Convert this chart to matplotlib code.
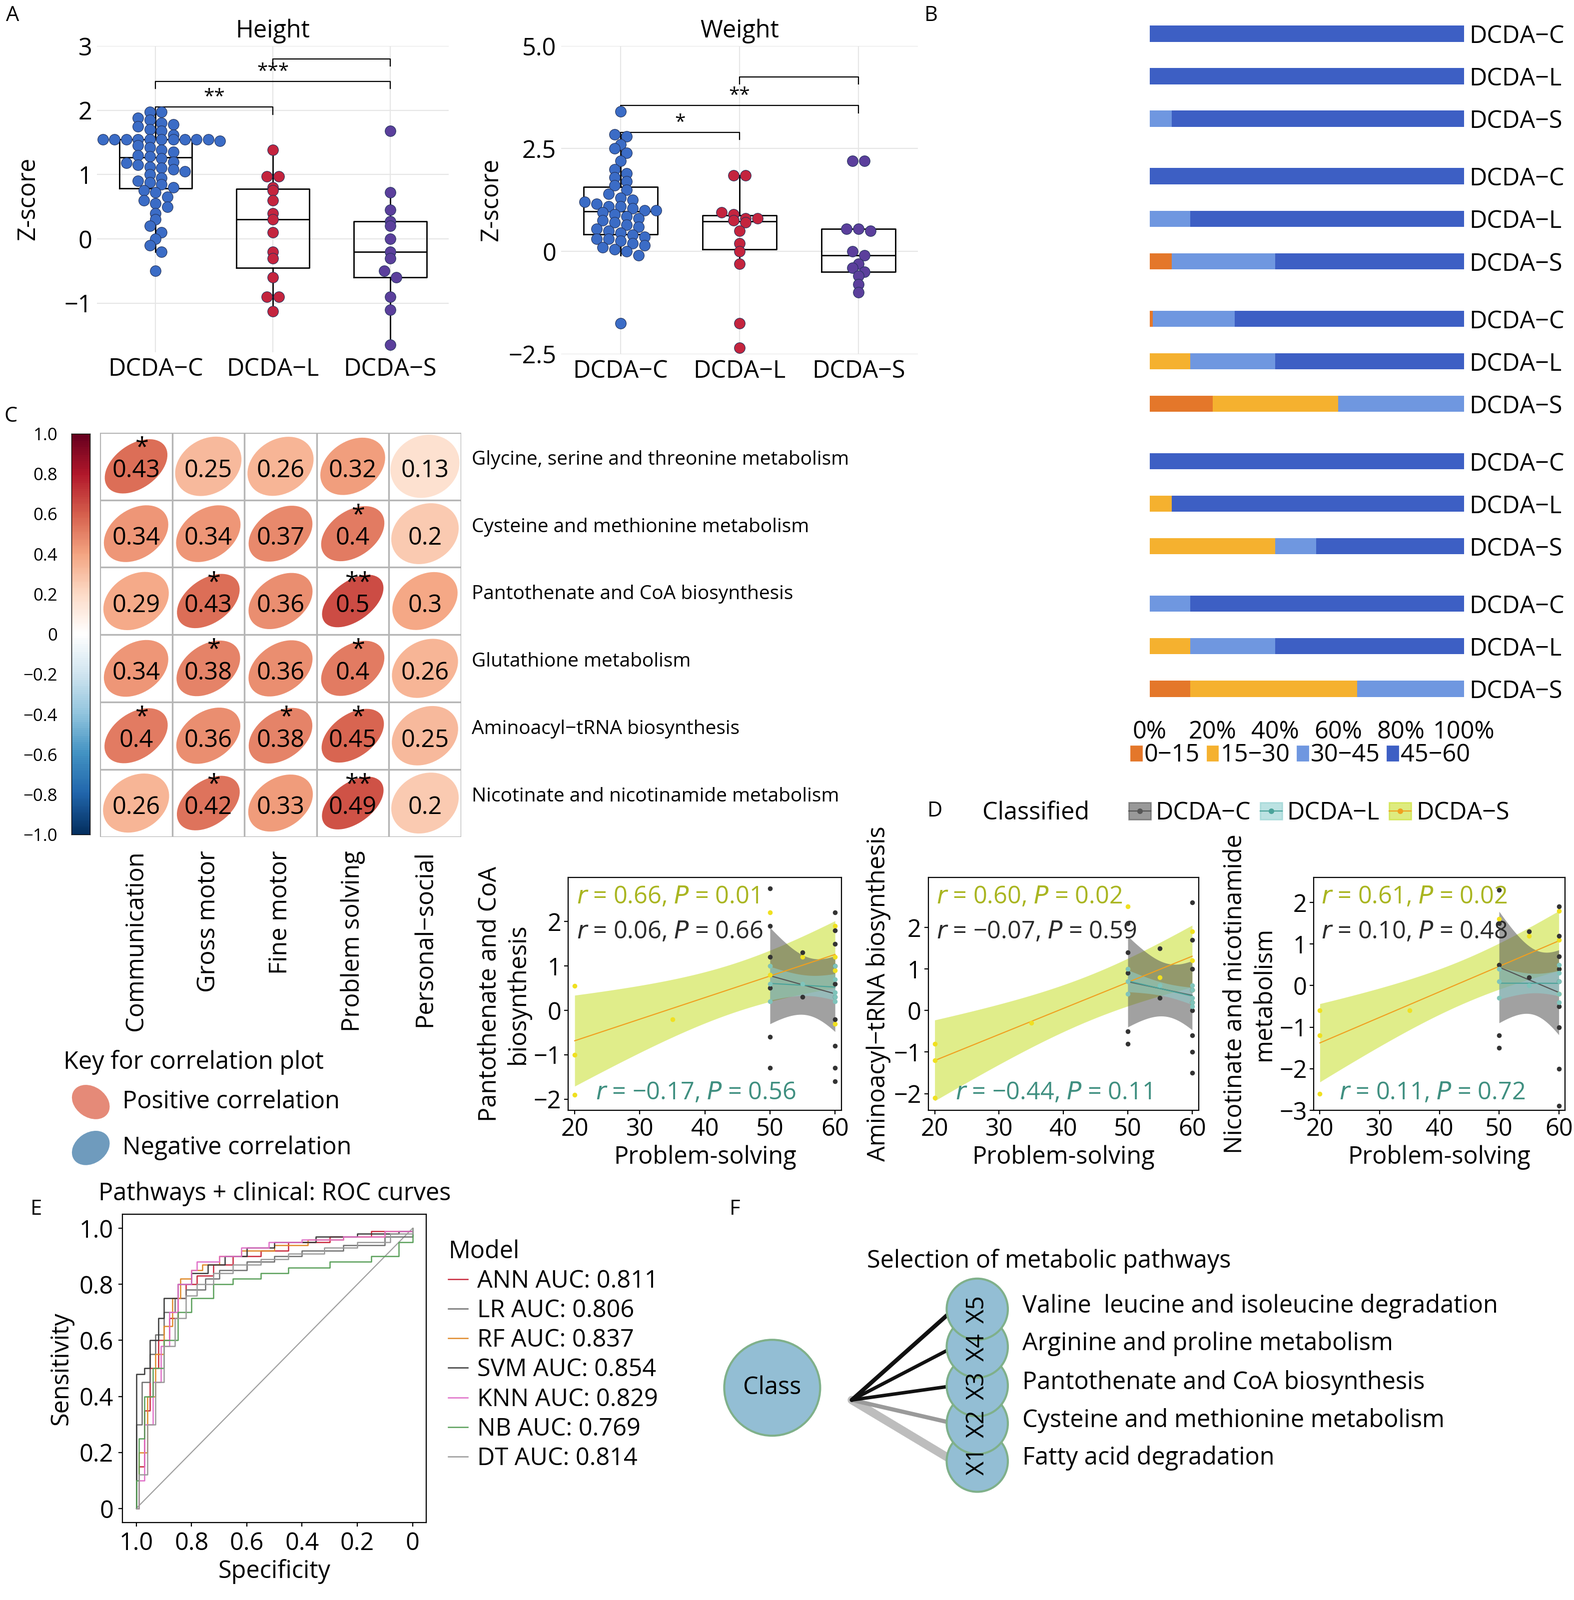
import numpy as np
import matplotlib.pyplot as plt
from matplotlib.patches import Ellipse, Circle, Patch
from matplotlib.lines import Line2D
from matplotlib.colors import LinearSegmentedColormap

plt.rcParams['font.family'] = ['Open Sans', 'DejaVu Sans']
plt.rcParams['font.size'] = 17
plt.rcParams['axes.linewidth'] = 0.8

W, H = 1543, 1568
FS = 17.5
fig = plt.figure(figsize=(15.75, 16.01), dpi=200)


def ax_at(x0, y0, x1, y1):
    return fig.add_axes([x0 / W, 1 - y1 / H, (x1 - x0) / W, (y1 - y0) / H])


def ftext(x, y, s, **kw):
    fig.text(x / W, 1 - y / H, s, **kw)


# ---------------- data ----------------
groups = ['DCDA\u2212C', 'DCDA\u2212L', 'DCDA\u2212S']
grp_colors = ['#3b6cc6', '#c4243e', '#5b3f9c']

height_c = [1.97, 1.97, 1.88, 1.85, 1.8, 1.78, 1.75, 1.7, 1.68, 1.62, 1.57, 1.55, 1.55, 1.55, 1.55, 1.55,
            1.55, 1.55, 1.55, 1.55, 1.55, 1.52, 1.45, 1.42, 1.38, 1.35, 1.3, 1.28, 1.25, 1.2, 1.18, 1.15,
            1.12, 1.1, 1.08, 1.05, 1.0, 0.95, 0.9, 0.88, 0.85, 0.8, 0.75, 0.72, 0.65, 0.6, 0.55, 0.5,
            0.4, 0.3, 0.2, 0.1, 0.0, -0.1, -0.2, -0.5]
height_l = [1.38, 0.97, 0.97, 0.8, 0.75, 0.6, 0.4, 0.3, 0.1, -0.2, -0.3, -0.6, -0.9, -0.9, -1.13]
height_s = [1.68, 0.72, 0.45, 0.27, 0.2, 0.0, -0.2, -0.3, -0.5, -0.6, -0.9, -1.1, -1.65]
weight_c = [3.4, 2.85, 2.8, 2.6, 2.5, 2.4, 2.2, 2.0, 1.9, 1.8, 1.7, 1.6, 1.5, 1.4, 1.3, 1.25, 1.2, 1.15,
            1.1, 1.1, 1.05, 1.0, 1.0, 0.95, 0.9, 0.85, 0.8, 0.75, 0.7, 0.65, 0.6, 0.55, 0.5, 0.45, 0.4,
            0.35, 0.3, 0.3, 0.25, 0.2, 0.15, 0.1, 0.05, 0.0, -0.1, -1.75]
weight_l = [1.85, 1.85, 0.95, 0.9, 0.8, 0.8, 0.75, 0.7, 0.5, 0.2, 0.0, -0.3, -1.75, -2.35]
weight_s = [2.2, 2.2, 0.55, 0.55, 0.5, 0.0, -0.1, -0.3, -0.4, -0.5, -0.6, -0.8, -1.0]

domains = ['Gross motor', 'Communication', 'Fine motor', 'Problem solving', 'Personal social']
bins = ['0\u221215', '15\u221230', '30\u221245', '45\u221260']
bin_colors = ['#e4772a', '#f5b12f', '#6f97e0', '#3d5fc4']
# percentages per domain, per group (C, L, S), per bin
pct = [
    [[0, 0, 0, 100], [0, 0, 0, 100], [0, 0, 7, 93]],
    [[0, 0, 0, 100], [0, 0, 13, 87], [7, 0, 33, 60]],
    [[1, 0, 26, 73], [0, 13, 27, 60], [20, 40, 40, 0]],
    [[0, 0, 0, 100], [0, 7, 0, 93], [0, 40, 13, 47]],
    [[0, 0, 13, 87], [0, 13, 27, 60], [13, 53, 34, 0]],
]

pathways = ['Glycine, serine and threonine metabolism', 'Cysteine and methionine metabolism',
            'Pantothenate and CoA biosynthesis', 'Glutathione metabolism',
            'Aminoacyl\u2212tRNA biosynthesis', 'Nicotinate and nicotinamide metabolism']
traits = ['Communication', 'Gross motor', 'Fine motor', 'Problem solving', 'Personal\u2212social']
corr = [[0.43, 0.25, 0.26, 0.32, 0.13],
        [0.34, 0.34, 0.37, 0.40, 0.20],
        [0.29, 0.43, 0.36, 0.50, 0.30],
        [0.34, 0.38, 0.36, 0.40, 0.26],
        [0.40, 0.36, 0.38, 0.45, 0.25],
        [0.26, 0.42, 0.33, 0.49, 0.20]]
corr_lbl = [['0.43', '0.25', '0.26', '0.32', '0.13'],
            ['0.34', '0.34', '0.37', '0.4', '0.2'],
            ['0.29', '0.43', '0.36', '0.5', '0.3'],
            ['0.34', '0.38', '0.36', '0.4', '0.26'],
            ['0.4', '0.36', '0.38', '0.45', '0.25'],
            ['0.26', '0.42', '0.33', '0.49', '0.2']]
stars = [['*', '', '', '', ''],
         ['', '', '', '*', ''],
         ['', '*', '', '**', ''],
         ['', '*', '', '*', ''],
         ['*', '', '*', '*', ''],
         ['', '*', '', '**', '']]

# panel D points (x, y) per group
d_sets = [
    {'S': ([20, 20, 20, 35, 50, 50, 55, 60, 60, 60, 60, 50], [0.55, -1.0, -1.9, -0.2, 2.2, 1.0, 1.2, 1.9, 0.9, 1.2, -0.3, 0.8]),
     'C': ([50, 50, 50, 50, 50, 55, 55, 60, 60, 60, 60, 60, 60, 60, 60, 60, 50, 60],
           [2.75, 1.9, 1.2, 0.5, -0.6, 1.3, 0.3, 2.2, 1.5, 1.0, 0.6, 0.3, -0.2, -0.8, -1.3, -1.6, -1.3, 1.8]),
     'L': ([50, 50, 50, 55, 60, 60, 60, 60, 60], [1.0, 0.2, 0.6, 0.6, 1.0, 0.4, 0.2, 0.7, 0.3])},
    {'S': ([20, 20, 20, 35, 50, 50, 55, 60, 60, 60, 60], [-0.8, -1.2, -2.1, -0.3, 2.5, 1.0, 0.8, 1.9, 1.2, 0.5, 0.2]),
     'C': ([50, 50, 50, 50, 50, 55, 55, 60, 60, 60, 60, 60, 60, 60, 60, 60],
           [2.1, 1.4, 0.9, -0.5, -0.8, 1.5, 0.3, 2.6, 1.7, 1.0, 0.5, 0.0, -0.6, -1.0, -1.5, 0.2]),
     'L': ([50, 50, 50, 55, 60, 60, 60, 60, 60], [1.0, 0.4, 0.7, 0.6, 0.6, 0.1, 0.3, 0.5, 0.2])},
    {'S': ([20, 20, 20, 35, 50, 50, 55, 60, 60, 60, 60], [-0.6, -1.2, -2.6, -0.6, 1.6, 0.5, 1.2, 1.8, 1.1, 0.4, -0.2]),
     'C': ([50, 50, 50, 50, 50, 55, 55, 60, 60, 60, 60, 60, 60, 60, 60, 60],
           [2.3, 1.5, 0.5, -1.2, -1.5, 1.3, 0.2, 1.9, 1.2, 0.7, 0.1, -0.5, -1.0, -2.0, -2.9, 0.4]),
     'L': ([50, 50, 50, 55, 60, 60, 60, 60, 60], [0.4, -0.3, 0.1, 0.0, 0.3, -0.2, 0.1, 0.5, -0.4])},
]
d_ylabels = ['Pantothenate and CoA\nbiosynthesis', 'Aminoacyl\u2212tRNA biosynthesis',
             'Nicotinate and nicotinamide\nmetabolism']
d_text = [
    [('0.66', '0.01'), ('0.06', '0.66'), ('\u22120.17', '0.56')],
    [('0.60', '0.02'), ('\u22120.07', '0.59'), ('\u22120.44', '0.11')],
    [('0.61', '0.02'), ('0.10', '0.48'), ('0.11', '0.72')],
]
d_ylims = [(-2.25, 2.99), (-2.4, 3.2), (-3.0, 2.6)]
d_yticks = [[-2, -1, 0, 1, 2], [-2, -1, 0, 1, 2], [-3, -2, -1, 0, 1, 2]]

models = ['ANN AUC: 0.811', 'LR AUC: 0.806', 'RF AUC: 0.837', 'SVM AUC: 0.854',
          'KNN AUC: 0.829', 'NB AUC: 0.769', 'DT AUC: 0.814']
model_colors = ['#c8283c', '#707070', '#e08a2a', '#3a3a3a', '#e06fc8', '#5aa05a', '#9a9a9a']
roc_spec = [
    [1, 0.99, 0.97, 0.95, 0.92, 0.88, 0.85, 0.82, 0.78, 0.72, 0.65, 0.55, 0.45, 0.3, 0.15, 0],
    [1, 1.0, 0.98, 0.95, 0.93, 0.9, 0.86, 0.82, 0.75, 0.7, 0.6, 0.5, 0.4, 0.25, 0.1, 0],
    [1, 0.99, 0.96, 0.93, 0.9, 0.87, 0.84, 0.8, 0.76, 0.7, 0.62, 0.5, 0.38, 0.25, 0.1, 0],
    [1, 1.0, 0.97, 0.95, 0.92, 0.9, 0.85, 0.8, 0.74, 0.68, 0.6, 0.5, 0.35, 0.2, 0.05, 0],
    [1, 0.99, 0.97, 0.94, 0.91, 0.88, 0.85, 0.8, 0.78, 0.7, 0.62, 0.52, 0.4, 0.25, 0.1, 0],
    [1, 1.0, 0.99, 0.97, 0.94, 0.9, 0.85, 0.8, 0.72, 0.65, 0.55, 0.45, 0.3, 0.15, 0.05, 0],
    [1, 0.99, 0.96, 0.93, 0.9, 0.86, 0.82, 0.78, 0.72, 0.65, 0.55, 0.45, 0.32, 0.2, 0.08, 0],
]
roc_sens = [
    [0, 0.15, 0.35, 0.5, 0.6, 0.68, 0.75, 0.8, 0.83, 0.87, 0.9, 0.92, 0.95, 0.97, 0.99, 1],
    [0, 0.3, 0.45, 0.55, 0.62, 0.7, 0.75, 0.78, 0.82, 0.85, 0.88, 0.9, 0.92, 0.94, 0.97, 1],
    [0, 0.2, 0.4, 0.55, 0.65, 0.75, 0.82, 0.85, 0.87, 0.9, 0.92, 0.94, 0.96, 0.97, 0.99, 1],
    [0, 0.48, 0.5, 0.6, 0.68, 0.75, 0.8, 0.84, 0.87, 0.9, 0.93, 0.95, 0.97, 0.98, 0.99, 1],
    [0, 0.1, 0.3, 0.45, 0.58, 0.7, 0.8, 0.85, 0.88, 0.9, 0.93, 0.95, 0.96, 0.97, 0.99, 1],
    [0, 0.1, 0.25, 0.4, 0.5, 0.6, 0.7, 0.75, 0.8, 0.82, 0.84, 0.86, 0.88, 0.9, 0.95, 1],
    [0, 0.12, 0.3, 0.45, 0.58, 0.68, 0.76, 0.8, 0.84, 0.87, 0.89, 0.91, 0.93, 0.95, 0.98, 1],
]

f_nodes = ['X1', 'X2', 'X3', 'X4', 'X5']
f_labels = ['Fatty acid degradation', 'Cysteine and methionine metabolism',
            'Pantothenate and CoA biosynthesis', 'Arginine and proline metabolism',
            'Valine  leucine and isoleucine degradation']
f_weights = [6, 3, 2.5, 2.5, 3]
f_edge_cols = ['#bdbdbd', '#9a9a9a', '#111111', '#111111', '#111111']


# ---------------- panel A ----------------
def swarm_x(vals, center, binw, dx):
    vals = np.asarray(vals)
    xs = np.zeros(len(vals))
    keys = np.round(vals / binw)
    for k in np.unique(keys):
        idx = np.where(keys == k)[0]
        n = len(idx)
        xs[idx] = center + (np.arange(n) - (n - 1) / 2) * dx
    return xs


def box_panel(ax, data, ylim, yticks, yticklabels, title, binw, sig):
    for i, (vals, col) in enumerate(zip(data, grp_colors)):
        ax.boxplot([vals], positions=[i], widths=0.62, showfliers=False,
                   medianprops=dict(color='black', lw=1), boxprops=dict(lw=1),
                   whiskerprops=dict(lw=1), capprops=dict(lw=0))
        xs = swarm_x(vals, i, binw, 0.1)
        ax.scatter(xs, vals, s=60, color=col, edgecolor='#22325a', lw=0.4, zorder=3)
    ax.set_xlim(-0.5, 2.5)
    ax.set_ylim(*ylim)
    ax.set_yticks(yticks)
    ax.set_yticklabels(yticklabels)
    ax.set_xticks([0, 1, 2])
    ax.set_xticklabels(groups)
    ax.tick_params(length=0, labelsize=FS)
    ax.grid(color='#e6e6e6', lw=0.8)
    ax.set_axisbelow(True)
    for s in ax.spines.values():
        s.set_visible(False)
    ax.set_ylabel('Z-score', fontsize=FS)
    ax.set_title(title, fontsize=FS, pad=6)
    for (a, b, y, lab) in sig:
        h = 0.04 * (ylim[1] - ylim[0])
        ax.plot([a, a, b, b], [y - h * 0.6, y, y, y - h * 0.6], color='black', lw=0.8, clip_on=False)
        if lab:
            ax.text((a + b) / 2, y, lab, ha='center', va='bottom', fontsize=14)


axh = ax_at(95, 45, 440, 345)
box_panel(axh, [height_c, height_l, height_s], (-1.76, 3.0), [-1, 0, 1, 2, 3],
          ['\u22121', '0', '1', '2', '3'], 'Height', 0.14,
          [(0, 1, 2.05, '**'), (0, 2, 2.45, '***'), (1, 2, 2.8, '')])
axh.yaxis.set_label_coords(-0.16, 0.5)
axw = ax_at(550, 45, 900, 347)
box_panel(axw, [weight_c, weight_l, weight_s], (-2.5, 5.0), [-2.5, 0, 2.5, 5.0],
          ['\u22122.5', '0', '2.5', '5.0'], 'Weight', 0.22,
          [(0, 1, 2.9, '*'), (0, 2, 3.55, '**'), (1, 2, 4.25, '')])
axw.yaxis.set_label_coords(-0.16, 0.5)

# ---------------- panel B ----------------
axb = ax_at(1127, 8, 1435, 700)
ypos = []
y = 0
for d in range(5):
    for g in range(3):
        ypos.append(y)
        y += 1
    y += 0.35
ypos = np.array(ypos)
k = 0
for d in range(5):
    for g in range(3):
        left = 0
        for b in range(4):
            v = pct[d][g][b]
            if v > 0:
                axb.barh(ypos[k], v, left=left, height=0.38, color=bin_colors[b])
            left += v
        k += 1
axb.set_xlim(0, 100)
axb.set_ylim(ypos[-1] + 0.6, -0.6)
axb.set_xticks([0, 20, 40, 60, 80, 100])
axb.set_xticklabels(['0%', '20%', '40%', '60%', '80%', '100%'])
axb.set_yticks(ypos)
axb.set_yticklabels(groups * 5)
axb.yaxis.tick_right()
axb.tick_params(length=0, labelsize=FS, pad=4)
for s in axb.spines.values():
    s.set_visible(False)
for d in range(5):
    yc = ypos[d * 3 + 1]
    axb.text(-4, yc - 0.05, domains[d], ha='right', va='center', fontsize=FS,
             transform=axb.get_yaxis_transform())
axb.legend([Patch(color=c) for c in bin_colors], bins, loc='upper center', bbox_to_anchor=(0.48, -0.02),
           ncol=4, frameon=False, fontsize=FS, handlelength=0.45, handleheight=0.55,
           handletextpad=0.1, columnspacing=0.3, borderpad=0.1)

# ---------------- panel C ----------------
cmap = LinearSegmentedColormap.from_list('corr', ['#053061', '#2166AC', '#4393C3', '#92C5DE', '#D1E5F0',
                                                  '#FFFFFF', '#FDDBC7', '#F4A582', '#D6604D',
                                                  '#B2182B', '#67001F'])
axc = ax_at(98, 424, 452, 820)
for r in range(6):
    for c in range(5):
        v = corr[r][c]
        yy = 5.5 - r
        e = Ellipse((c + 0.5, yy), width=1.0, height=1.0 * (1 - 0.85 * v), angle=40,
                    facecolor=cmap((min(1.3 * v, 1) + 1) / 2), edgecolor='none')
        axc.add_patch(e)
        axc.text(c + 0.5, yy - 0.07, corr_lbl[r][c], ha='center', va='center', fontsize=FS)
        if stars[r][c]:
            axc.text(c + 0.58, yy + 0.26, stars[r][c], ha='center', va='center', fontsize=FS)
for i in range(6):
    axc.axvline(i, color='#b5b5b5', lw=1.2)
for i in range(7):
    axc.axhline(i, color='#b5b5b5', lw=1.2)
axc.set_xlim(0, 5)
axc.set_ylim(0, 6)
axc.set_xticks(np.arange(5) + 0.5)
axc.set_xticklabels(traits, rotation=90, fontsize=FS)
axc.set_yticks([])
axc.tick_params(length=0, pad=10)
for s in axc.spines.values():
    s.set_visible(False)
for r in range(6):
    axc.text(5.15, 5.5 - r + 0.1, pathways[r], ha='left', va='center', fontsize=14)

axcb = ax_at(70, 425, 88, 818)
cb_ticks = np.round(np.arange(-1, 1.01, 0.2), 1)
axcb.imshow(np.linspace(1, -1, 200).reshape(-1, 1), aspect='auto', cmap=cmap, vmin=-1, vmax=1,
            extent=[0, 1, -1, 1])
axcb.set_xticks([])
axcb.set_yticks(cb_ticks)
axcb.set_yticklabels(['\u22121.0' if v == -1 else ('1.0' if v == 1 else ('0' if v == 0 else
                      (str(v).replace('-', '\u2212')))) for v in cb_ticks], fontsize=12.5)
axcb.tick_params(length=0, pad=10)
for s in axcb.spines.values():
    s.set_lw(0.5)

ftext(62, 1041, 'Key for correlation plot', fontsize=FS, va='center')
axk = ax_at(60, 1055, 120, 1150)
axk.set_xlim(0, 60)
axk.set_ylim(95, 0)
axk.axis('off')
axk.add_patch(Ellipse((29, 25), 40, 30, angle=35, facecolor='#e58a78', edgecolor='none'))
axk.add_patch(Ellipse((29, 70), 40, 30, angle=-35, facecolor='#6f9bbd', edgecolor='none'))
ftext(120, 1080, 'Positive correlation', fontsize=FS, va='center')
ftext(120, 1125, 'Negative correlation', fontsize=FS, va='center')

# ---------------- panel D ----------------
d_cols = {'S': '#f0e020', 'C': '#333333', 'L': '#7fc4bb'}
band_cols = {'S': '#c8df2a', 'C': '#555555', 'L': '#8fd0cf'}
line_cols = {'S': '#f0a020', 'C': '#555555', 'L': '#4aa39a'}
txt_cols = ['#a9b520', '#2a2a2a', '#3f8f80']
d_boxes = [(557, 860, 825, 1088), (910, 860, 1175, 1088), (1288, 860, 1534, 1088)]
for i, (bx, ds) in enumerate(zip(d_boxes, d_sets)):
    ax = ax_at(*bx)
    for key in ['S', 'C', 'L']:
        xs, ys = np.array(ds[key][0], float), np.array(ds[key][1], float)
        ax.scatter(xs, ys, s=6, color=d_cols[key], zorder=4)
        p = np.polyfit(xs, ys, 1)
        xx = np.linspace(xs.min(), xs.max(), 50)
        yy = np.polyval(p, xx)
        res = ys - np.polyval(p, xs)
        se = np.sqrt(np.sum(res ** 2) / (len(xs) - 2))
        sxx = np.sum((xs - xs.mean()) ** 2)
        half = 2.1 * se * np.sqrt(1 / len(xs) + (xx - xs.mean()) ** 2 / sxx)
        ax.fill_between(xx, yy - half, yy + half, color=band_cols[key], alpha=0.55, lw=0, zorder=2)
        ax.plot(xx, yy, color=line_cols[key], lw=0.8, zorder=3)
    ax.set_xlim(19, 61)
    ax.set_ylim(*d_ylims[i])
    ax.set_xticks([20, 30, 40, 50, 60])
    ax.set_yticks(d_yticks[i])
    ax.set_yticklabels([str(v).replace('-', '\u2212') for v in d_yticks[i]])
    ax.tick_params(labelsize=FS, length=3, pad=2)
    ax.set_xlabel('Problem-solving', fontsize=FS, labelpad=2)
    ax.set_ylabel(d_ylabels[i], fontsize=FS, labelpad=2)
    t = d_text[i]
    ax.text(0.03, 0.97, '$r$ = %s, $P$ = %s' % t[0], transform=ax.transAxes, color=txt_cols[0],
            fontsize=FS, va='top')
    ax.text(0.03, 0.82, '$r$ = %s, $P$ = %s' % t[1], transform=ax.transAxes, color=txt_cols[1],
            fontsize=FS, va='top')
    ax.text(0.1, 0.02, '$r$ = %s, $P$ = %s' % t[2], transform=ax.transAxes, color=txt_cols[2],
            fontsize=FS, va='bottom')

ftext(963, 797, 'Classified', fontsize=FS, va='center')
handles = [(Patch(color=band_cols[k], alpha=0.6), Line2D([], [], color=line_cols[k], marker='o', ms=3, lw=0.8))
           for k in ['C', 'L', 'S']]
fig.legend(handles, groups, loc='center left', bbox_to_anchor=(1085 / W, 1 - 797 / H), ncol=3,
           frameon=False, fontsize=FS, handlelength=0.9, handletextpad=0.2, columnspacing=0.4)

# ---------------- panel E ----------------
axe = ax_at(120, 1190, 418, 1492)
axe.plot([1, 0], [0, 1], color='#a0a0a0', lw=0.8)
for sp, se_, col, lab in zip(roc_spec, roc_sens, model_colors, models):
    axe.step(sp, se_, where='post', color=col, lw=0.9, label=lab)
axe.set_xlim(1.05, -0.05)
axe.set_ylim(-0.05, 1.05)
axe.set_xticks([1.0, 0.8, 0.6, 0.4, 0.2, 0])
axe.set_xticklabels(['1.0', '0.8', '0.6', '0.4', '0.2', '0'])
axe.set_yticks([0, 0.2, 0.4, 0.6, 0.8, 1.0])
axe.set_yticklabels(['0', '0.2', '0.4', '0.6', '0.8', '1.0'])
axe.tick_params(labelsize=FS, length=3)
axe.set_xlabel('Specificity', fontsize=FS, labelpad=2)
axe.set_ylabel('Sensitivity', fontsize=FS)
axe.set_title('Pathways + clinical: ROC curves', fontsize=FS, pad=10)
axe.legend(title='Model', loc='upper left', bbox_to_anchor=(1.0, 0.99), frameon=False, fontsize=FS,
           title_fontsize=FS, handlelength=0.8, handletextpad=0.4, labelspacing=0.2,
           alignment='left')

# ---------------- panel F ----------------
axf = ax_at(690, 1250, 1540, 1470)
axf.set_xlim(690, 1540)
axf.set_ylim(1470, 1250)
axf.set_aspect('equal')
axf.axis('off')
ys_f = [1432, 1395, 1358, 1320, 1283]
for yv, w, col in zip(ys_f, f_weights, f_edge_cols):
    axf.plot([835, 935], [1372, yv], color=col, lw=w, solid_capstyle='round', zorder=1)
axf.add_patch(Circle((757, 1360), 47, facecolor='#93bed4', edgecolor='#7fb08a', lw=1.5, zorder=2))
axf.text(757, 1360, 'Class', ha='center', va='center', fontsize=FS, zorder=3)
for yv, nm, lab in zip(ys_f, f_nodes, f_labels):
    axf.add_patch(Circle((958, yv), 30, facecolor='#93bed4', edgecolor='#7fb08a', lw=1.5, zorder=2))
    axf.text(958, yv, nm, ha='center', va='center', rotation=90, fontsize=FS, zorder=3)
    axf.text(1002, yv - 3, lab, ha='left', va='center', fontsize=FS)
ftext(850, 1236, 'Selection of metabolic pathways', fontsize=FS, va='center')

# panel letters
for lab, x, yv in [('A', 6, 15), ('B', 906, 15), ('C', 4, 408), ('D', 909, 795), ('E', 30, 1185), ('F', 715, 1185)]:
    ftext(x, yv, lab, fontsize=15, va='center')

fig.savefig('out.png', dpi=200)
